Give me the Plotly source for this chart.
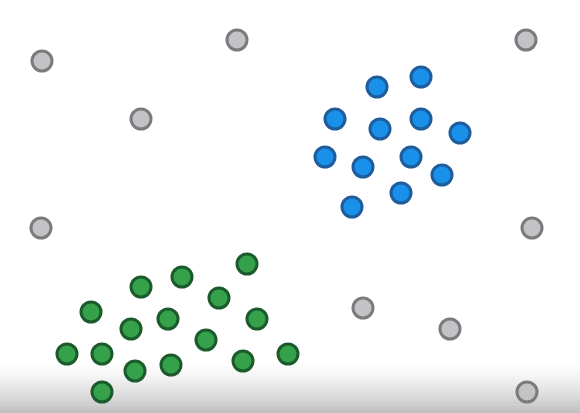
import plotly.graph_objects as go

gray_x = [42, 237, 526, 141, 41, 532, 363, 450, 527]
gray_y = [61, 40, 40, 119, 228, 228, 308, 329, 392]

blue_x = [377, 421, 335, 380, 421, 460, 325, 363, 411, 442, 401, 352]
blue_y = [87, 77, 119, 129, 119, 133, 157, 167, 157, 175, 193, 207]

green_x = [247, 182, 141, 219, 91, 168, 257, 131, 206, 67, 102, 171, 243, 288, 135, 102]
green_y = [264, 277, 287, 298, 312, 319, 319, 329, 340, 354, 354, 365, 361, 354, 371, 392]

W, H = 580, 413

fig = go.Figure()

def add(xs, ys, fill, edge):
    fig.add_trace(go.Scatter(
        x=xs, y=ys, mode="markers",
        marker=dict(size=20, color=fill, line=dict(color=edge, width=3)),
        hoverinfo="skip", showlegend=False))

add(gray_x, gray_y, "#c3c3c7", "#7b7b7b")
add(blue_x, blue_y, "#1990ea", "#1f5c9c")
add(green_x, green_y, "#35a24b", "#1b5a2b")

# bottom fade background
shapes = []
n = 24
top, bot = 360, 413
for i in range(n):
    y0 = top + (bot - top) * i / n
    y1 = top + (bot - top) * (i + 1) / n
    t = (i + 0.5) / n
    v = int(round(255 - (255 - 190) * t ** 1.5))
    shapes.append(dict(type="rect", xref="x", yref="y", x0=0, x1=W, y0=y0, y1=y1 + 0.5,
                       fillcolor=f"rgb({v},{v},{v})", line=dict(width=0), layer="below"))

fig.update_layout(
    width=W, height=H,
    margin=dict(l=0, r=0, t=0, b=0),
    paper_bgcolor="white", plot_bgcolor="white",
    xaxis=dict(range=[0, W], visible=False, showgrid=False, zeroline=False),
    yaxis=dict(range=[H, 0], visible=False, showgrid=False, zeroline=False),
    shapes=shapes,
)

fig.write_html("out.html", config={"displayModeBar": False},
               post_script="document.body.style.margin='0';document.body.style.overflow='hidden';")
